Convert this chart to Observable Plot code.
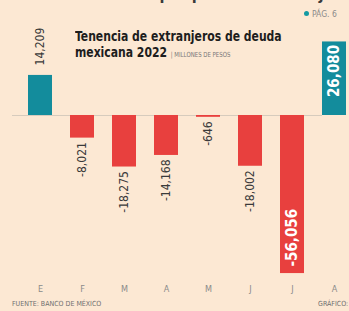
<!DOCTYPE html>
<html>
<head>
<meta charset="utf-8">
<script src="https://cdn.jsdelivr.net/npm/d3@7"></script>
<script src="https://cdn.jsdelivr.net/npm/@observablehq/plot@0.6"></script>
<style>
  html, body { margin: 0; padding: 0; background: #fce8d3; overflow: hidden; }
  #wrap { position: relative; width: 349px; height: 311px; overflow: hidden; background: #fce8d3;
          font-family: "DejaVu Sans", sans-serif; font-stretch: condensed; }
  #wrap svg { position: absolute; left: 0; top: 0; }
  .abs { position: absolute; white-space: nowrap; }
  #topline { left: 4px; top: -15px; font-size: 16px; color: #3a3a3a; font-weight: bold; }
  #pag { left: 304px; top: 9px; font-size: 8.5px; color: #8a8a8a; }
  #pag .dot { display: inline-block; width: 5px; height: 5px; border-radius: 50%; background: #149aa2; margin-right: 3px; vertical-align: 1px; }
  #title { left: 75px; top: 29px; font-size: 14px; line-height: 15.5px; font-weight: bold; color: #1d1d1d;
           transform: scaleX(0.86); transform-origin: left top; }
  #title .unit { font-weight: normal; font-size: 7px; color: #777; }
  #source { left: 12px; top: 300px; font-size: 7px; color: #6f6f6f; }
  #credit { left: 318px; top: 300px; font-size: 7px; color: #6f6f6f; }
</style>
</head>
<body>
<div id="wrap"></div>
<script>
const months = ["E", "F", "M", "A", "M", "J", "J", "A"];
const values = [14209, -8021, -18275, -14168, -646, -18002, -56056, 26080];
const labels = ["14,209", "-8,021", "-18,275", "-14,168", "-646", "-18,002", "-56,056", "26,080"];
const titleLine1 = "Tenencia de extranjeros de deuda";
const titleLine2 = "mexicana 2022";
const unitText = "MILLONES DE PESOS";
const topText = "tenencia de deuda por parte de extranjeros.";
const pageText = "PÁG. 6";
const sourceText = "FUENTE: BANCO DE MÉXICO";
const creditText = "GRÁFICO: EE";

const teal = "#138c9c";
const red = "#e8403e";

const data = values.map((v, i) => ({i, v, label: labels[i], month: months[i]}));

const chart = Plot.plot({
  width: 349,
  height: 311,
  marginTop: 0,
  marginBottom: 30,
  marginLeft: 12,
  marginRight: 27,
  style: {background: "transparent", fontFamily: "'DejaVu Sans', sans-serif", fontStretch: "condensed"},
  x: {type: "band", domain: d3.range(months.length), range: [16.8, 356.2], paddingInner: 0.43, paddingOuter: 0.215,
      tickFormat: i => months[i], tickSize: 0, tickPadding: 4, label: null},
  y: {domain: [-58870, 40780], axis: null},
  marks: [
    Plot.ruleY([0], {stroke: "#d6cbbd", strokeWidth: 1.2}),
    Plot.barY(data, {x: "i", y: "v", fill: d => d.v >= 0 ? teal : red}),
    Plot.axisX({tickSize: 0, tickPadding: 4, tickFormat: i => months[i], fontSize: 9, fill: "#8a8a8a", label: null}),
    Plot.text(data.filter(d => d.v > 0 && d.v < 20000), {x: "i", y: "v", text: "label", rotate: -90, textAnchor: "start", dy: -10, fontSize: 12, fill: "#3a3a3a"}),
    Plot.text(data.filter(d => d.v >= 20000), {x: "i", y: "v", text: "label", rotate: -90, textAnchor: "end", dy: 3, fontSize: 15, fontWeight: "bold", fill: "white"}),
    Plot.text(data.filter(d => d.v < 0 && d.v > -40000), {x: "i", y: "v", text: "label", rotate: -90, textAnchor: "end", dy: 4, fontSize: 12, fill: "#3a3a3a"}),
    Plot.text(data.filter(d => d.v <= -40000), {x: "i", y: "v", text: "label", rotate: -90, textAnchor: "start", dy: -7, fontSize: 15, fontWeight: "bold", fill: "white"})
  ]
});

const wrap = document.getElementById("wrap");
wrap.appendChild(chart);

function addDiv(id, html) {
  const d = document.createElement("div");
  d.id = id; d.className = "abs"; d.innerHTML = html;
  wrap.appendChild(d);
}
addDiv("topline", topText);
addDiv("pag", `<span class="dot"></span>${pageText}`);
addDiv("title", `${titleLine1}<br>${titleLine2} <span class="unit">| ${unitText}</span>`);
addDiv("source", sourceText);
addDiv("credit", creditText);
</script>
</body>
</html>
